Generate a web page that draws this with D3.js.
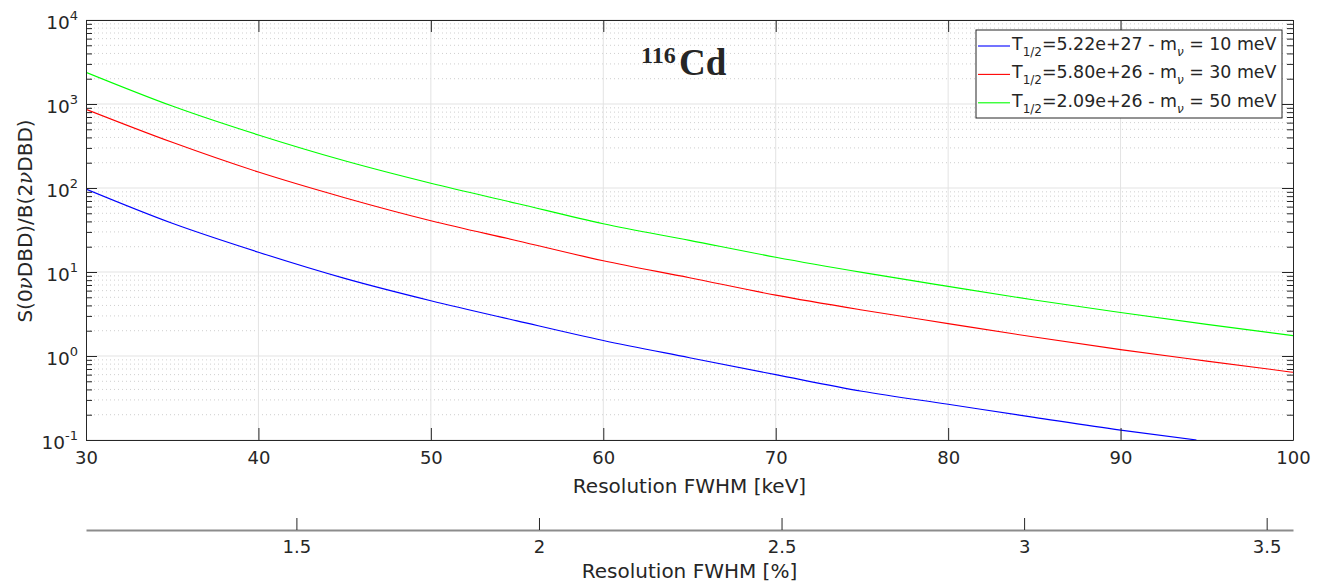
<!DOCTYPE html>
<html>
<head>
<meta charset="utf-8">
<script src="https://cdn.jsdelivr.net/npm/d3@7"></script>
<style>
  body { margin: 0; background: #fff; }
  text { font-family: "DejaVu Sans", sans-serif; fill: #262626; }
</style>
</head>
<body>
<svg id="chart" width="1320" height="583"></svg>
<script>
// Resolution FWHM [keV] where the curves were read
const resolution = [30, 35, 40, 45, 50, 55, 60, 65, 70, 75, 80, 85, 90, 95, 100];
// blue curve leaves the plot at about 94.4 keV
const resolutionBlue = [30, 35, 40, 45, 50, 55, 60, 65, 70, 75, 80, 85, 90, 94.4];

// S/B values
const ratio10meV = [97, 38, 17.2, 8.4, 4.55, 2.62, 1.53, 0.955, 0.60, 0.38, 0.266, 0.186, 0.131, 0.1];
const ratio30meV = [865, 350, 155, 76.7, 40.8, 23.6, 13.6, 8.55, 5.3, 3.53, 2.43, 1.68, 1.19, 0.87, 0.64];
const ratio50meV = [2385, 946, 428, 211, 114, 65.5, 37.6, 23.8, 15.0, 9.9, 6.74, 4.64, 3.30, 2.38, 1.75];

// legend bits
const halfLives = ["5.22e+27", "5.80e+26", "2.09e+26"];
const masses = [10, 30, 50];
const colors = ["#0000ff", "#ff0000", "#00ff00"];

// axis ticks
const xTicks = [30, 40, 50, 60, 70, 80, 90, 100];
const yTicks = [0.1, 1, 10, 100, 1000, 10000];
const yExponents = [-1, 0, 1, 2, 3, 4];
const percentTicks = [1.5, 2, 2.5, 3, 3.5];
// 116Cd Q-value [keV], used to turn keV into %
const qValue = 2813.5;

const svg = d3.select('#chart');
const plotLeft = 86, plotRight = 1293, plotTop = 20, plotBottom = 440;

const x = d3.scaleLinear().domain([30, 100]).range([plotLeft, plotRight]);
const y = d3.scaleLog().domain([0.1, 10000]).range([plotBottom, plotTop]);
const xPercent = d3.scaleLinear()
    .domain([30 / qValue * 100, 100 / qValue * 100])
    .range([plotLeft, plotRight]);

// minor y values 2..9 x decade
let yMinor = [];
for (let e = -1; e < 4; e++) {
    for (let m = 2; m <= 9; m++) yMinor.push(m * Math.pow(10, e));
}

// Grid: minor dotted, major solid
svg.append('g').selectAll('line')
    .data(yMinor).join('line')
    .attr('x1', plotLeft).attr('x2', plotRight)
    .attr('y1', d => y(d)).attr('y2', d => y(d))
    .attr('stroke', '#cfcfcf')
    .attr('stroke-dasharray', '1,3');
svg.append('g').selectAll('line')
    .data(yTicks).join('line')
    .attr('x1', plotLeft).attr('x2', plotRight)
    .attr('y1', d => y(d)).attr('y2', d => y(d))
    .attr('stroke', '#e3e3e3');
svg.append('g').selectAll('line')
    .data(xTicks.slice(1, -1)).join('line')
    .attr('x1', d => x(d)).attr('x2', d => x(d))
    .attr('y1', plotTop).attr('y2', plotBottom)
    .attr('stroke', '#e3e3e3');

// Curves
const line = d3.line()
    .x(d => x(d[0]))
    .y(d => y(d[1]))
    .curve(d3.curveMonotoneX);

svg.append('clipPath').attr('id', 'plotClip')
    .append('rect')
    .attr('x', plotLeft).attr('y', plotTop)
    .attr('width', plotRight - plotLeft).attr('height', plotBottom - plotTop);

const seriesData = [
    d3.zip(resolutionBlue, ratio10meV),
    d3.zip(resolution, ratio30meV),
    d3.zip(resolution, ratio50meV)
];

svg.append('g').attr('clip-path', 'url(#plotClip)')
    .selectAll('path')
    .data(seriesData).join('path')
    .attr('d', line)
    .attr('fill', 'none')
    .attr('stroke', (d, i) => colors[i])
    .attr('stroke-width', 1.1);

// Axes (ticks point inward, like MATLAB)
function styleAxis(g) {
    g.selectAll('path').attr('stroke', '#262626');
    g.selectAll('line').attr('stroke', '#262626');
    g.selectAll('text').attr('fill', '#262626').style('font-size', '18px')
        .style('font-family', '"DejaVu Sans", sans-serif');
}

svg.append('g')
    .attr('transform', `translate(0,${plotBottom})`)
    .call(d3.axisBottom(x).tickValues(xTicks).tickSizeInner(-12).tickSizeOuter(0).tickPadding(11))
    .call(styleAxis);

svg.append('g')
    .attr('transform', `translate(0,${plotTop})`)
    .call(d3.axisTop(x).tickValues(xTicks).tickSizeInner(-12).tickSizeOuter(0).tickFormat(''))
    .call(styleAxis);

svg.append('g')
    .attr('transform', `translate(${plotLeft},0)`)
    .call(d3.axisLeft(y).tickValues(yTicks).tickSizeInner(-11).tickSizeOuter(0).tickFormat(''))
    .call(styleAxis);

svg.append('g')
    .attr('transform', `translate(${plotLeft},0)`)
    .call(d3.axisLeft(y).tickValues(yMinor).tickSizeInner(-6).tickSizeOuter(0).tickFormat(''))
    .call(styleAxis)
    .select('.domain').remove();

svg.append('g')
    .attr('transform', `translate(${plotRight},0)`)
    .call(d3.axisRight(y).tickValues(yTicks).tickSizeInner(-11).tickSizeOuter(0).tickFormat(''))
    .call(styleAxis);

svg.append('g')
    .attr('transform', `translate(${plotRight},0)`)
    .call(d3.axisRight(y).tickValues(yMinor).tickSizeInner(-6).tickSizeOuter(0).tickFormat(''))
    .call(styleAxis)
    .select('.domain').remove();

// y tick labels 10^n
let yLabels = svg.append('g').selectAll('text')
    .data(yTicks).join('text')
    .attr('x', 78)
    .attr('y', d => y(d) + 9)
    .attr('text-anchor', 'end')
    .style('font-size', '18.5px');
yLabels.append('tspan').text('10');
yLabels.append('tspan')
    .attr('dy', -9)
    .style('font-size', '13px')
    .text((d, i) => yExponents[i]);

// Axis titles
svg.append('text')
    .attr('x', (plotLeft + plotRight) / 2)
    .attr('y', 493)
    .attr('text-anchor', 'middle')
    .style('font-size', '20px')
    .text('Resolution FWHM [keV]');

let yTitle = svg.append('text')
    .attr('transform', 'translate(32,221) rotate(-90)')
    .attr('text-anchor', 'middle')
    .style('font-size', '20px');
yTitle.append('tspan').text('S(0');
yTitle.append('tspan').style('font-style', 'italic').style('font-family', '"DejaVu Serif", serif').text('ν');
yTitle.append('tspan').text('DBD)/B(2');
yTitle.append('tspan').style('font-style', 'italic').style('font-family', '"DejaVu Serif", serif').text('ν');
yTitle.append('tspan').text('DBD)');

// Second x axis in percent
let pAxis = svg.append('g')
    .attr('transform', 'translate(0,530)')
    .call(d3.axisBottom(xPercent).tickValues(percentTicks).tickFormat(d3.format('')).tickSizeInner(-12).tickSizeOuter(0).tickPadding(10))
    .call(styleAxis);
pAxis.select('.domain').attr('stroke', '#8c8c8c').attr('stroke-width', 2);

svg.append('text')
    .attr('x', (plotLeft + plotRight) / 2)
    .attr('y', 578)
    .attr('text-anchor', 'middle')
    .style('font-size', '20px')
    .text('Resolution FWHM [%]');

// Title 116Cd
svg.append('text')
    .attr('x', 641).attr('y', 63)
    .style('font-family', '"Liberation Serif", serif')
    .style('font-weight', 'bold')
    .style('font-size', '24px')
    .attr('fill', '#000')
    .text('116');
svg.append('text')
    .attr('x', 679).attr('y', 75)
    .style('font-family', '"Liberation Serif", serif')
    .style('font-weight', 'bold')
    .style('font-size', '37px')
    .attr('fill', '#000')
    .text('Cd');

// Legend
let legend = svg.append('g');
legend.append('rect')
    .attr('x', 976).attr('y', 30)
    .attr('width', 306).attr('height', 88)
    .attr('fill', '#fff')
    .attr('stroke', '#262626');

let entries = legend.selectAll('g.entry')
    .data(halfLives).join('g')
    .attr('class', 'entry')
    .attr('transform', (d, i) => `translate(0,${46 + i * 28.4})`);
entries.append('line')
    .attr('x1', 978).attr('x2', 1010)
    .attr('stroke', (d, i) => colors[i])
    .attr('stroke-width', 1.1);
let entryText = entries.append('text')
    .attr('x', 1012).attr('y', 4)
    .style('font-size', '17.4px');
entryText.append('tspan').text('T');
entryText.append('tspan').attr('dy', 6).style('font-size', '12px').text('1/2');
entryText.append('tspan').attr('dy', -6).text(d => '=' + d + ' - m');
entryText.append('tspan').attr('dy', 6).style('font-size', '12px').style('font-style', 'italic').text('ν');
entryText.append('tspan').attr('dy', -6).text((d, i) => ' = ' + masses[i] + ' meV');
</script>
</body>
</html>
